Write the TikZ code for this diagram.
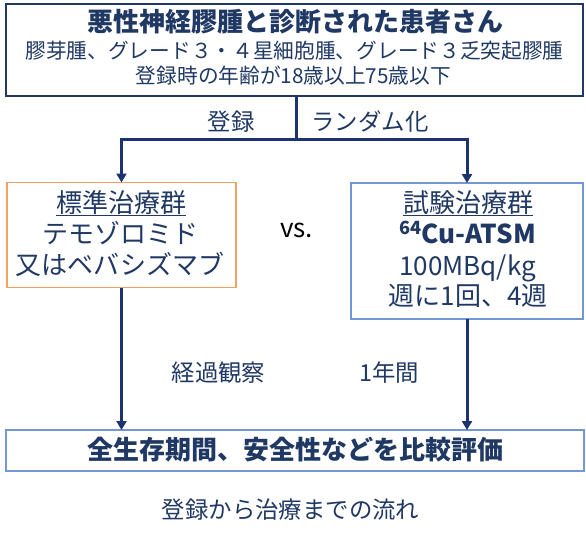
\documentclass[tikz,border=0pt]{standalone}
\usepackage{fontspec}
\setmainfont{Noto Sans CJK JP}
\usepackage{xcolor}
\usetikzlibrary{arrows.meta}
\definecolor{navy}{HTML}{1F3864}
\definecolor{linenavy}{HTML}{1B3470}
\definecolor{stdorange}{HTML}{F4A15E}
\definecolor{trialblue}{HTML}{7397D6}
\tikzset{x=1pt, y=-1pt,
 frame/.style={draw, inner sep=0pt, outer sep=0pt},
 flow/.style={draw=linenavy, line width=3pt, -{Triangle[width=10pt,length=9pt]}},
 stem/.style={draw=linenavy, line width=3pt},
 big/.style={anchor=base, text=navy, font=\fontsize{26}{30}\selectfont},
 small/.style={anchor=base, text=navy, font=\fontsize{20.7}{25}\selectfont},
 note/.style={anchor=base, text=navy, font=\fontsize{23.4}{28}\selectfont},
 }

\begin{document}
\begin{tikzpicture}
        \useasboundingbox (0,0) rectangle (586,539);
        \node[frame, draw=navy, line width=2pt, minimum width=577pt, minimum height=92.5pt] (patients) at (294.5,49.75) {};
        \node[big, font=\fontsize{26}{30}\selectfont\bfseries] (title) at (295,31.6) {悪性神経膠腫と診断された患者さん};
        \node[small] (types) at (294.5,58.8) {膠芽腫、グレード３・４星細胞腫、グレード３乏突起膠腫};
        \node[small] (age) at (293.5,83.8) {登録時の年齢が18歳以上75歳以下};

        \coordinate (split) at (296,139.5);
        \node[note, anchor=base east] (enrol) at (258,130.5) {登録};
        \node[note, anchor=base west] (random) at (308,130.5) {ランダム化};

        \node[frame, draw=stdorange, line width=1.5pt, minimum width=229pt, minimum height=105pt] (std) at (121.5,235) {};
        \node[big] (stdname) at (121,212) {\underline{標準治療群}};
        \node[big] (tmz) at (120,243.5) {テモゾロミド};
        \node[big] (bev) at (120,274) {又はベバシズマブ};

        \node[big, text=black] (vs) at (296.5,237) {vs.};

        \node[frame, draw=trialblue, line width=1.5pt, minimum width=232pt, minimum height=136pt] (trial) at (467,251) {};
        \node[big] (trialname) at (468,212) {\underline{試験治療群}};
        \node[big, font=\fontsize{26}{30}\selectfont\bfseries] (cu) at (467.5,243.5) {\textsuperscript{64}Cu-ATSM};
        \node[big] (dose) at (467.5,275) {100MBq/kg};
        \node[big] (weeks) at (468,305.5) {週に1回、4週};

        \node[note] (follow) at (218.5,381.6) {経過観察};
        \node[note] (year) at (389,381.6) {1年間};

        \node[frame, draw=trialblue, line width=1.5pt, minimum width=578pt, minimum height=41pt] (result) at (295,450.5) {};
        \node[big, font=\fontsize{26}{30}\selectfont\bfseries] (compare) at (295,459) {全生存期間、安全性などを比較評価};

        \node[note] (caption) at (290.5,518) {登録から治療までの流れ};

        \draw[stem] (patients.south -| split) -- (split);
        \draw[flow] (split) -| (std.north);
        \draw[flow] (split) -| (trial.north);
        \foreach \g in {std, trial} {
            \draw[flow] (\g.south) -- (\g.south |- result.north);
        }
    \end{tikzpicture}
\end{document}
